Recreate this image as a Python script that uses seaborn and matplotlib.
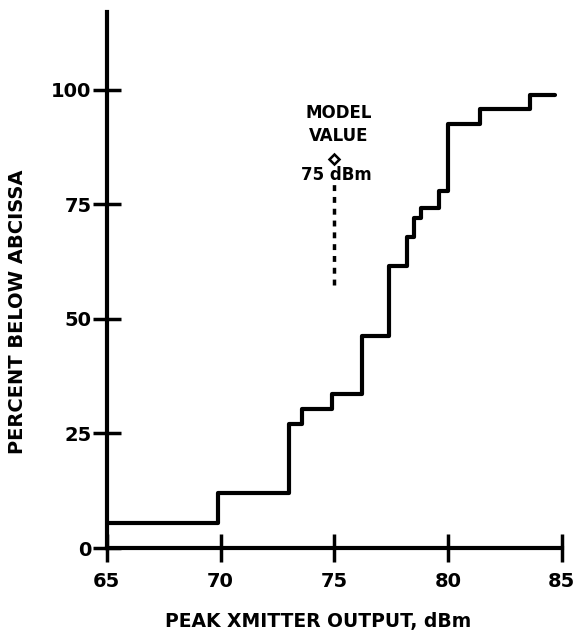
import pandas as pd
import matplotlib
matplotlib.use('Agg')
import matplotlib.pyplot as plt
import seaborn as sns

# 阶梯曲线数据
step_x = [65, 69.9, 73.0, 73.6, 74.9, 76.2, 77.4, 78.2, 78.5, 78.8, 79.6, 80.0, 81.4, 83.6, 84.7]
pct_below = [5.5, 12, 27, 30.4, 33.7, 46.3, 61.5, 68, 72, 74.3, 78, 92.6, 95.9, 99, 99]

# 模型值
model_x = 75
model_y = 85
model_line = [57.5, 80.5]

x_ticks = [65, 70, 75, 80, 85]
y_ticks = [0, 25, 50, 75, 100]

df = pd.DataFrame({'dBm': step_x, 'pct': pct_below})

sns.set_style('ticks')
plt.rcParams['font.family'] = ['DejaVu Sans']
plt.rcParams['font.weight'] = 'bold'
plt.rcParams['text.color'] = 'black'
plt.rcParams['axes.labelcolor'] = 'black'
plt.rcParams['xtick.color'] = 'black'
plt.rcParams['ytick.color'] = 'black'
plt.rcParams['axes.edgecolor'] = 'black'

fig = plt.figure(figsize=(5.84, 6.35), dpi=100)
ax = fig.add_axes([0.183, 0.137, 0.779, 0.844])

sns.lineplot(x='dBm', y='pct', data=df, drawstyle='steps-post', color='black',
             linewidth=3, ax=ax)

# 模型值虚线和菱形
ax.plot([model_x, model_x], model_line, color='black', linewidth=2.5,
        linestyle=(0, (1.7, 1.7)))
ax.plot([model_x], [model_y], marker='D', markersize=5, markerfacecolor='white',
        markeredgecolor='black', markeredgewidth=1.8)
ax.text(model_x + 0.2, 95, 'MODEL', ha='center', va='center', fontsize=12, fontweight='bold')
ax.text(model_x + 0.2, 90, 'VALUE', ha='center', va='center', fontsize=12, fontweight='bold')
ax.text(model_x + 0.1, 81.5, '75 dBm', ha='center', va='center', fontsize=12, fontweight='bold')

ax.set_xlim(65, 85)
ax.set_ylim(0, 117)
ax.set_xticks(x_ticks)
ax.set_yticks(y_ticks)
ax.tick_params(direction='inout', length=20, width=2.5, labelsize=14)
ax.tick_params(axis='y', pad=1)
ax.tick_params(axis='x', pad=7)
for lab in ax.get_xticklabels() + ax.get_yticklabels():
    lab.set_fontweight('bold')
for side in ['top', 'right']:
    ax.spines[side].set_visible(False)
for side in ['left', 'bottom']:
    ax.spines[side].set_linewidth(3)
ax.spines['left'].set_bounds(0, 117)

ax.set_xlabel('PEAK XMITTER OUTPUT, dBm', fontsize=13.5, fontweight='bold')
ax.set_ylabel('PERCENT BELOW ABCISSA', fontsize=14, fontweight='bold')
ax.xaxis.set_label_coords(0.465, -0.12)
ax.yaxis.set_label_coords(-0.176, 0.44)

plt.savefig('out.png', dpi=100)
